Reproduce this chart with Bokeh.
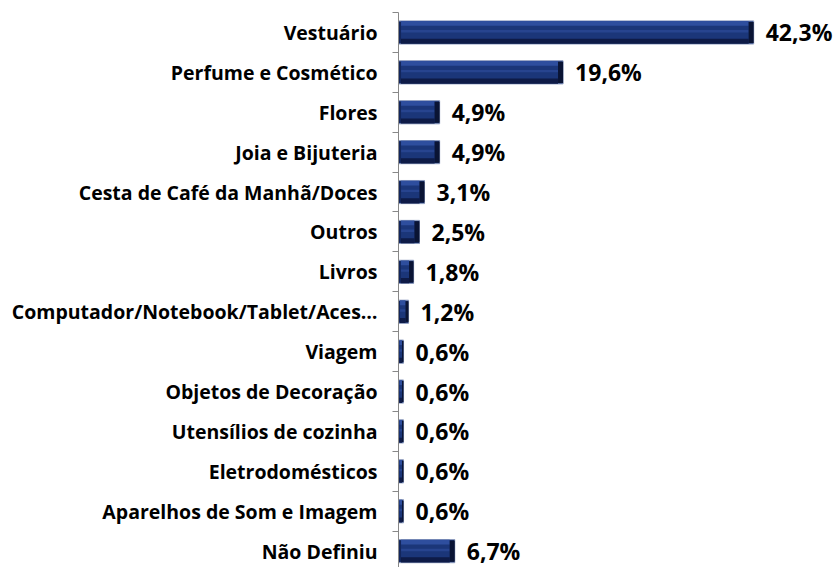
from bokeh.plotting import figure
from bokeh.models import Range1d, FixedTicker, ColumnDataSource
from bokeh.core.properties import value
from bokeh.embed import file_html
from bokeh.resources import INLINE

categories = ["Vestuário", "Perfume e Cosmético", "Flores", "Joia e Bijuteria",
              "Cesta de Café da Manhã/Doces", "Outros", "Livros",
              "Computador/Notebook/Tablet/Aces…", "Viagem", "Objetos de Decoração",
              "Utensílios de cozinha", "Eletrodomésticos", "Aparelhos de Som e Imagem",
              "Não Definiu"]
values = [42.3, 19.6, 4.9, 4.9, 3.1, 2.5, 1.8, 1.2, 0.6, 0.6, 0.6, 0.6, 0.6, 6.7]
value_labels = ["42,3%", "19,6%", "4,9%", "4,9%", "3,1%", "2,5%", "1,8%", "1,2%",
                "0,6%", "0,6%", "0,6%", "0,6%", "0,6%", "6,7%"]

n = len(categories)
ys = [n - 0.5 - i for i in range(n)]
H = 0.58
bev = [min(0.6, v * 0.3) for v in values]

src = ColumnDataSource(dict(
    y=ys, v=values, lab=value_labels,
    inner=[v - b for v, b in zip(values, bev)],
    lft=[b * 0.5 for b in bev],
    ytop=[y + H / 2 - 0.065 for y in ys],
    ybot=[y - H / 2 + 0.07 for y in ys],
    ymid=[y + 0.03 for y in ys],
))

p = figure(width=838, height=567, output_backend="svg", toolbar_location=None,
           x_range=Range1d(0, 52.4), y_range=Range1d(0.09, 14.0),
           min_border_left=398, min_border_right=0, min_border_top=12, min_border_bottom=0)
p.outline_line_color = None
p.xgrid.visible = False
p.ygrid.visible = False
p.xaxis.visible = False
p.background_fill_color = "white"
p.border_fill_color = "white"

# bars with bevel look
p.hbar(y="y", left=0, right="v", height=H, source=src, fill_color="#1b3679",
       line_color="#8d9bbd", line_width=1)
p.hbar(y="ytop", left="lft", right="inner", height=0.12, source=src,
       fill_color="#2e4e9e", line_color=None)
p.hbar(y="ymid", left="lft", right="inner", height=0.06, source=src,
       fill_color="#27448f", line_color=None)
p.hbar(y="ybot", left="lft", right="inner", height=0.13, source=src,
       fill_color="#0e1b47", line_color=None)
p.hbar(y="y", left="inner", right="v", height=H - 0.05, source=src,
       fill_color="#0a1434", line_color=None)
p.hbar(y="y", left=0, right="lft", height=H - 0.05, source=src,
       fill_color="#13265c", line_color=None)

p.text(x="v", y="y", text="lab", source=src, x_offset=12,
       text_baseline="middle", text_align="left",
       text_font=value("Open Sans"), text_font_style="bold", text_font_size="23px",
       text_color="#000000")

ax = p.yaxis[0]
ax.ticker = FixedTicker(ticks=ys, minor_ticks=list(range(0, n + 1)))
ax.major_label_overrides = {y: c for y, c in zip(ys, categories)}
ax.major_tick_line_color = None
ax.minor_tick_out = 6
ax.minor_tick_in = 0
ax.minor_tick_line_color = "#888888"
ax.axis_line_color = "#888888"
ax.major_label_standoff = 15
ax.major_label_text_font = "Open Sans"
ax.major_label_text_font_style = "bold"
ax.major_label_text_font_size = "19.5px"
ax.major_label_text_color = "#000000"

open("out.html", "w").write(file_html(p, INLINE))
